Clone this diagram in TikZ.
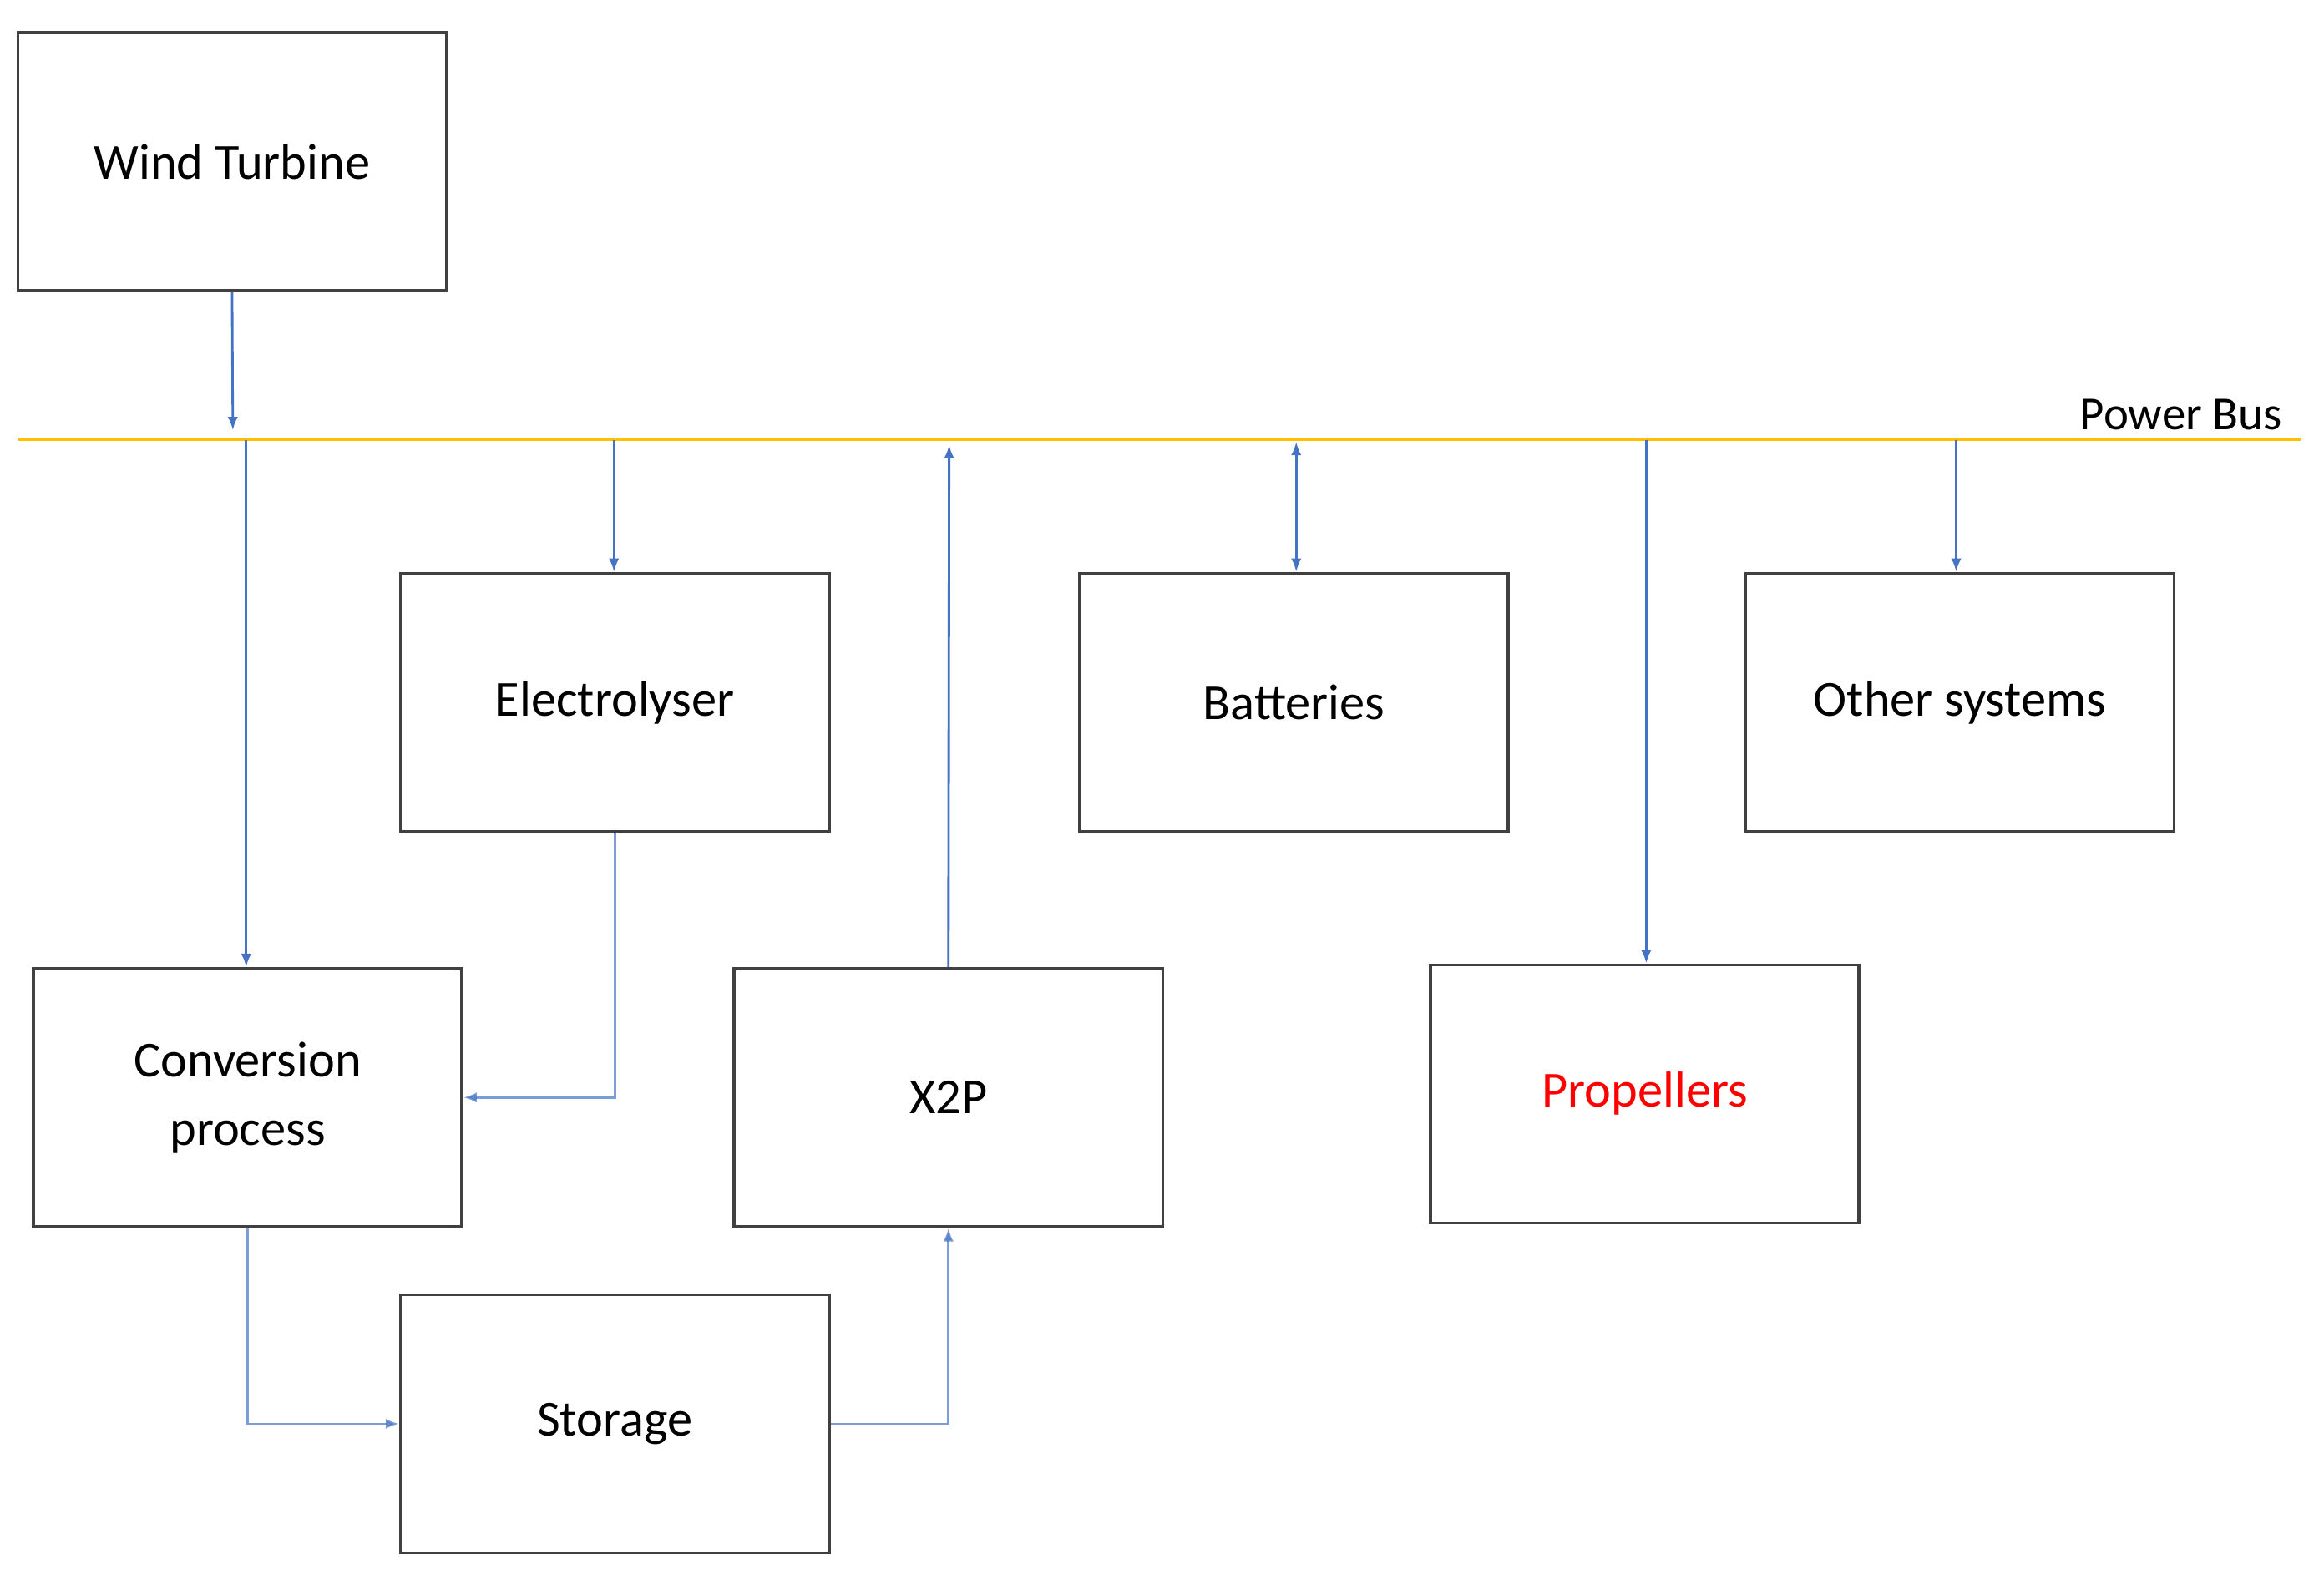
\documentclass[tikz,border=0pt]{standalone}
\usepackage{fontspec}
\setmainfont{Carlito}
\usetikzlibrary{arrows.meta}
\begin{document}
\begin{tikzpicture}[x=1pt,y=-1pt,
  box/.style={draw=black!75,line width=2pt,minimum width=289pt,minimum height=174pt,inner sep=0,align=center,font=\fontsize{34}{46}\selectfont},
  arr/.style={color={rgb,255:red,68;green,114;blue,196},line width=1.6pt,-{Latex[length=9pt,width=7pt]}}]
\useasboundingbox (0,0) rectangle (1567,1065);
\node[box] (wt) at (156.5,109) {Wind Turbine};
\node[box] (el) at (414.5,473.5) {Electrolyser};
\node[box] (ba) at (872.5,473.5) {Batteries};
\node[box] (ot) at (1321.5,473.5) {Other systems};
\node[box] (cp) at (167,740) {Conversion\\process};
\node[box] (x2) at (639.5,740) {X2P};
\node[box,text={rgb,255:red,255;green,0;blue,0}] (pr) at (1109,737.5) {Propellers};
\node[box] (st) at (414.5,960) {Storage};
\coordinate (bl) at (12,296); \coordinate (br) at (1552,296);
\draw[line width=2.4pt,color={rgb,255:red,255;green,192;blue,0}] (bl) -- (br);
\node[anchor=south east,font=\fontsize{32}{38}\selectfont,inner sep=2pt] (pb) at (1541,292) {Power Bus};
\coordinate (b1) at (157,290);
\draw[arr] (wt.south) -- (b1);
\coordinate (b2) at (166,297);
\draw[arr] (b2) -- (b2 |- cp.north);
\coordinate (b3) at (414,297);
\draw[arr] (b3) -- (b3 |- el.north);
\coordinate (b4) at (640,300);
\draw[arr] (x2.north) -- (b4);
\coordinate (b5) at (874,298);
\draw[arr,{Latex[length=9pt,width=7pt]}-{Latex[length=9pt,width=7pt]}] (b5) -- (b5 |- ba.north);
\coordinate (b6) at (1110,297);
\draw[arr] (b6) -- (b6 |- pr.north);
\coordinate (b7) at (1319,297);
\draw[arr] (b7) -- (b7 |- ot.north);
\draw[arr,opacity=0.7] (el.south) |- (cp.east);
\draw[arr,opacity=0.7] (cp.south) |- (st.west);
\draw[arr,opacity=0.7] (st.east) -| (x2.south);
\end{tikzpicture}
\end{document}
